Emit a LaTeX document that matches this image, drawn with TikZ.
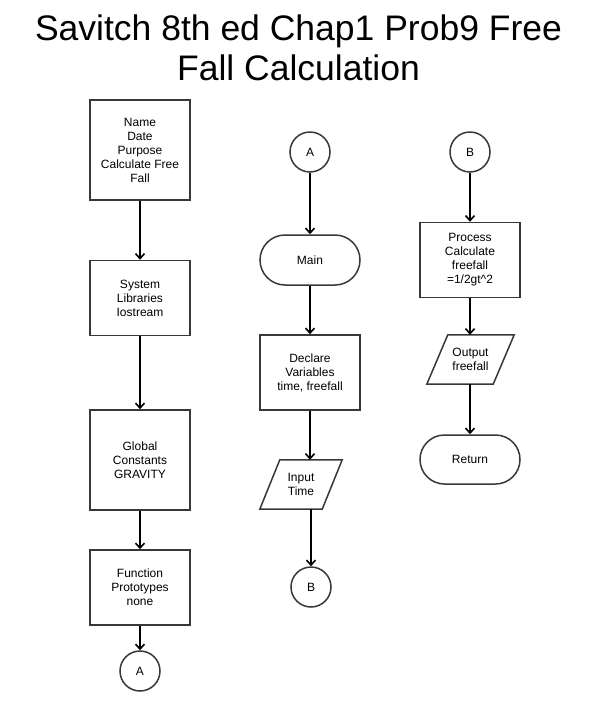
\documentclass[tikz,border=0pt]{standalone}
\usepackage{fontspec}
\setmainfont{Liberation Sans}
\usetikzlibrary{arrows.meta,shapes.misc}
\begin{document}
\begin{tikzpicture}[x=1pt,y=-1pt,
  every node/.style={font=\fontsize{12}{14}\selectfont, align=center, inner sep=0pt},
  shp/.style={draw=black!78, line width=1.5pt},
  procbox/.style={shp, minimum width=100pt, minimum height=#1},
  termbox/.style={shp, rounded rectangle, minimum width=100pt, minimum height=50pt},
  connbox/.style={shp, circle, minimum size=40pt},
  iobox/.style={minimum width=#1, minimum height=49pt},
  arr/.style={line width=1.6pt, -{Straight Barb[length=5pt,width=9pt,line width=1.6pt]}},
  titlefont/.style={font=\fontsize{35.5}{40}\selectfont, anchor=base}]
\fill[white] (0,0) rectangle (611,710);
\useasboundingbox (0,0) rectangle (611,710);

% title
\node[titlefont] (t1) at (298.5,40) {Savitch 8th ed Chap1 Prob9 Free};
\node[titlefont] (t2) at (298.5,80) {Fall Calculation};

% left column
\node[procbox=100pt] (b1) at (140,150) {Name\\Date\\Purpose\\Calculate Free\\Fall};
\node[procbox=75pt] (b2) at (140,298) {System\\Libraries\\Iostream};
\node[procbox=100pt] (b3) at (140,460) {Global\\Constants\\GRAVITY};
\node[procbox=75pt] (b4) at (140,587.5) {Function\\Prototypes\\none};
\node[connbox] (a1) at (140,671) {A};

% middle column
\node[connbox] (a2) at (310,152) {A};
\node[termbox] (main) at (310,260) {Main};
\node[procbox=75pt] (decl) at (310,372.5) {Declare\\Variables\\time, freefall};
\node[iobox=82pt] (inp) at (301,484.5) {Input\\Time};
\draw[shp, line join=miter] ([xshift=20pt]inp.north west) -- (inp.north east)
  -- ([xshift=-20pt]inp.south east) -- (inp.south west) -- cycle;
\node[connbox] (b5) at (311,587) {B};

% right column
\node[connbox] (b6) at (470,152) {B};
\node[procbox=75pt] (proc) at (470,260) {Process\\Calculate\\freefall\\=1/2gt\textasciicircum 2};
\node[iobox=87pt] (outp) at (470.5,359.5) {Output\\freefall};
\draw[shp, line join=miter] ([xshift=21pt]outp.north west) -- (outp.north east)
  -- ([xshift=-21pt]outp.south east) -- (outp.south west) -- cycle;
\node[termbox, minimum height=49pt] (ret) at (470,459.5) {Return};

% connectors
\draw[arr] (b1.south) -- (b2.north);
\draw[arr] (b2.south) -- (b3.north);
\draw[arr] (b3.south) -- (b4.north);
\draw[arr] (b4.south) -- (a1.north);

\draw[arr] (a2.south) -- (main.north);
\draw[arr] (main.south) -- (decl.north);
\draw[arr] (decl.south) -- (decl.south |- inp.north);
\draw[arr] (b5.north |- inp.south) -- (b5.north);

\draw[arr] (b6.south) -- (proc.north);
\draw[arr] (proc.south) -- (proc.south |- outp.north);
\draw[arr] (ret.north |- outp.south) -- (ret.north);
\end{tikzpicture}
\end{document}
